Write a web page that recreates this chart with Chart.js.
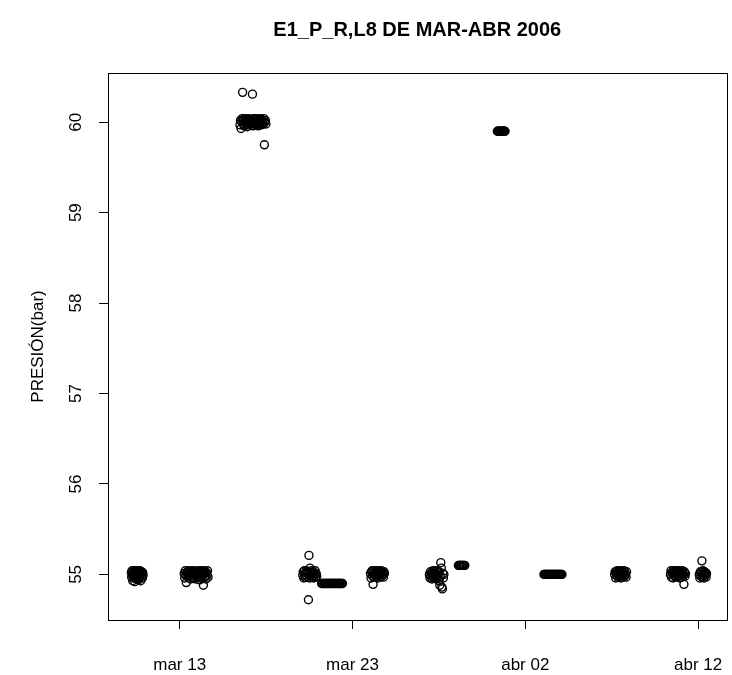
<!DOCTYPE html>
<html>
<head>
<meta charset="utf-8">
<script src="https://cdn.jsdelivr.net/npm/chart.js@4/dist/chart.umd.min.js"></script>
<style>
  html, body { margin: 0; padding: 0; background: #fff; }
  canvas { display: block; }
</style>
</head>
<body>
<canvas id="presion-chart" width="732" height="675"></canvas>
<script>
// time = day counted from 1 March 2006 (abr 02 = 33), value = pressure in bar
const titulo = "E1_P_R,L8 DE MAR-ABR 2006";
const yTitulo = "PRESIÓN(bar)";

const xTickDays = [13, 23, 33, 43];
const xTickLabels = ["mar 13", "mar 23", "abr 02", "abr 12"];
const yTicks = [55, 56, 57, 58, 59, 60];

const tA = [10.20,10.22,10.24,10.26,10.28,10.30,10.32,10.34,10.36,10.38,10.40,10.42,10.44,10.46,10.48,10.50,10.52,10.54,10.56,10.58,10.60,10.62,10.64,10.66,10.68,10.70,10.72,10.74,10.76,10.78,10.80,10.82,10.84,10.86,10.88];
const pA = [55.02,54.97,55.04,54.99,54.93,55.01,55.03,54.96,55.00,55.04,54.92,54.98,55.02,55.03,54.95,55.01,55.04,54.97,55.00,55.02,54.94,55.03,54.99,55.01,54.96,55.04,55.00,54.93,55.02,54.98,55.03,55.01,54.96,55.02,54.99];

const tB = [13.26,13.29,13.32,13.35,13.38,13.41,13.44,13.47,13.50,13.53,13.56,13.59,13.62,13.65,13.68,13.71,13.74,13.77,13.80,13.83,13.86,13.89,13.92,13.95,13.98,14.01,14.04,14.07,14.10,14.13,14.16,14.19,14.22,14.25,14.28,14.31,14.34,14.37,14.40,14.43,14.46,14.49,14.52,14.55,14.58,14.61,14.64];
const pB = [55.01,54.96,55.04,54.99,54.91,55.02,55.03,54.97,55.00,55.04,54.98,55.02,54.95,55.03,55.00,54.97,55.04,55.01,54.96,55.02,55.03,54.99,54.95,55.01,55.04,54.98,55.02,54.97,55.03,55.00,54.94,55.04,55.01,54.96,55.03,54.99,55.02,54.88,55.04,54.97,55.01,55.03,54.95,55.02,54.99,55.04,54.97];

const tTop = [16.49,16.52,16.55,16.58,16.61,16.64,16.67,16.70,16.73,16.76,16.79,16.82,16.85,16.88,16.91,16.94,16.97,17.00,17.03,17.06,17.09,17.12,17.15,17.18,17.21,17.24,17.27,17.30,17.33,17.36,17.39,17.42,17.45,17.48,17.51,17.54,17.57,17.60,17.63,17.66,17.69,17.72,17.75,17.78,17.81,17.84,17.87,17.90,17.93,17.96,17.99];
const pTop = [59.97,60.02,59.93,60.01,60.04,60.33,59.98,60.03,59.96,60.01,60.04,59.97,60.00,60.03,59.95,60.02,59.99,60.04,59.97,60.01,60.03,59.98,60.00,60.02,60.31,59.96,60.04,60.00,59.98,60.03,60.01,59.97,60.04,59.99,60.02,59.96,60.03,60.00,59.98,60.04,60.01,59.97,60.03,59.99,60.02,59.98,60.04,59.75,60.00,60.02,59.98];

const tC = [20.12,20.15,20.18,20.21,20.24,20.27,20.30,20.33,20.36,20.39,20.42,20.45,20.48,20.51,20.54,20.57,20.60,20.63,20.66,20.69,20.72,20.75,20.78,20.81,20.84,20.87,20.90,20.93];
const pC = [54.99,55.03,54.96,55.04,55.00,54.97,55.02,55.04,54.98,55.01,55.03,54.72,55.21,54.96,55.07,55.02,54.99,55.04,54.97,55.01,55.03,54.96,55.02,54.99,55.04,54.97,55.01,54.98];

const tC2 = [21.21,21.25,21.29,21.33,21.38,21.42,21.46,21.50,21.54,21.58,21.63,21.67,21.71,21.75,21.79,21.83,21.88,21.92,21.96,22.00,22.04,22.08,22.13,22.17,22.21,22.25,22.29,22.33,22.38,22.42];
const pC2 = [54.9,54.9,54.9,54.9,54.9,54.9,54.9,54.9,54.9,54.9,54.9,54.9,54.9,54.9,54.9,54.9,54.9,54.9,54.9,54.9,54.9,54.9,54.9,54.9,54.9,54.9,54.9,54.9,54.9,54.9];

const tD = [24.04,24.07,24.10,24.13,24.16,24.19,24.22,24.25,24.28,24.31,24.34,24.37,24.40,24.43,24.46,24.49,24.52,24.55,24.58,24.61,24.64,24.67,24.70,24.73,24.76,24.79,24.82,24.85];
const pD = [55.01,54.96,55.03,55.04,54.98,54.89,55.02,55.00,54.97,55.04,55.01,54.98,55.03,55.00,54.96,55.04,55.02,54.99,55.03,54.97,55.01,55.04,54.98,55.02,55.00,54.97,55.03,55.01];

const tE = [27.45,27.48,27.51,27.54,27.57,27.60,27.63,27.66,27.69,27.72,27.75,27.78,27.81,27.84,27.87,27.90,27.93,27.96,27.99,28.02,28.05,28.08,28.11,28.14,28.17,28.20,28.23,28.26,28.29];
const pE = [55.00,54.96,55.03,54.98,55.01,54.95,55.02,55.04,54.97,55.00,55.03,54.96,55.01,54.98,55.04,54.95,55.02,54.99,54.93,55.03,54.88,54.97,55.13,55.07,54.86,54.84,55.01,54.96,55.00];

const tE2 = [29.13,29.17,29.21,29.25,29.29,29.33,29.38,29.42,29.46,29.50];
const pE2 = [55.1,55.1,55.1,55.1,55.1,55.1,55.1,55.1,55.1,55.1];

const tS = [31.38,31.42,31.46,31.50,31.54,31.58,31.63,31.67,31.71,31.75,31.79,31.83];
const pS = [59.9,59.9,59.9,59.9,59.9,59.9,59.9,59.9,59.9,59.9,59.9,59.9];

const tF0 = [34.08,34.13,34.17,34.21,34.25,34.29,34.33,34.38,34.42,34.46,34.50,34.54,34.58,34.63,34.67,34.71,34.75,34.79,34.83,34.88,34.92,34.96,35.00,35.04,35.08,35.12];
const pF0 = [55.0,55.0,55.0,55.0,55.0,55.0,55.0,55.0,55.0,55.0,55.0,55.0,55.0,55.0,55.0,55.0,55.0,55.0,55.0,55.0,55.0,55.0,55.0,55.0,55.0,55.0];

const tF = [38.17,38.20,38.23,38.26,38.29,38.32,38.35,38.38,38.41,38.44,38.47,38.50,38.53,38.56,38.59,38.62,38.65,38.68,38.71,38.74,38.77,38.80,38.83,38.86];
const pF = [55.00,55.03,54.96,55.02,54.99,55.04,54.97,55.01,55.03,54.98,55.00,55.04,54.96,55.02,54.99,55.03,54.97,55.01,55.04,54.98,55.02,55.00,54.97,55.03];

const tG = [41.40,41.43,41.46,41.49,41.52,41.55,41.58,41.61,41.64,41.67,41.70,41.73,41.76,41.79,41.82,41.85,41.88,41.91,41.94,41.97,42.00,42.03,42.06,42.09,42.12,42.15,42.18,42.21,42.24,42.27];
const pG = [55.00,55.04,54.97,55.02,55.03,54.96,55.01,55.04,54.98,55.02,55.00,55.04,54.97,55.03,55.01,54.98,55.04,55.02,54.96,55.00,55.03,55.01,54.97,55.04,55.02,54.99,54.89,55.03,54.98,55.01];

const tH = [43.07,43.10,43.13,43.16,43.19,43.22,43.25,43.28,43.31,43.34,43.37,43.40,43.43,43.46,43.49];
const pH = [55.00,54.96,55.03,54.98,55.02,55.15,54.97,55.04,55.00,54.96,55.03,54.99,55.02,54.97,55.01];

const tramos = [[tA, pA], [tB, pB], [tTop, pTop], [tC, pC], [tC2, pC2], [tD, pD],
    [tE, pE], [tE2, pE2], [tS, pS], [tF0, pF0], [tF, pF], [tG, pG], [tH, pH]];
const puntos = tramos.flatMap(([t, p]) => t.map((d, i) => ({ x: d, y: p[i] })));

const fontFamily = '"Liberation Sans", Arial, sans-serif';
const black = "#000";

const frame = {
    id: "frame",
    afterDraw(chart) {
        const { ctx, chartArea: a } = chart;
        ctx.save();
        ctx.strokeStyle = black;
        ctx.lineWidth = 1;
        ctx.strokeRect(Math.round(a.left) + 0.5, Math.round(a.top) + 0.5,
            Math.round(a.right - a.left), Math.round(a.bottom - a.top));
        ctx.fillStyle = black;
        ctx.font = "bold 20px " + fontFamily;
        ctx.textAlign = "center";
        ctx.textBaseline = "middle";
        ctx.fillText(titulo, (a.left + a.right) / 2, 30);
        ctx.restore();
    },
};

new Chart(document.getElementById("presion-chart"), {
    type: "scatter",
    data: {
        datasets: [
            {
                data: puntos,
                pointStyle: "circle",
                pointRadius: 4,
                pointHoverRadius: 4,
                borderWidth: 1.4,
                borderColor: black,
                backgroundColor: "rgba(0,0,0,0)",
            },
        ],
    },
    options: {
        responsive: false,
        animation: false,
        layout: { padding: { top: 73, right: 4, left: 0, bottom: 0 } },
        plugins: {
            legend: { display: false },
            tooltip: { enabled: false },
        },
        scales: {
            x: {
                type: "linear",
                min: 8.85,
                max: 44.65,
                afterBuildTicks: (s) => { s.ticks = xTickDays.map((v) => ({ value: v })); },
                afterFit: (s) => { s.height = 55; s.paddingLeft = 0; s.paddingRight = 0; },
                border: { display: false },
                grid: { drawOnChartArea: false, drawTicks: true, tickLength: 9, color: black },
                ticks: {
                    autoSkip: false,
                    maxRotation: 0,
                    padding: 26,
                    color: black,
                    font: { family: fontFamily, size: 17 },
                    callback: (v) => xTickLabels[xTickDays.indexOf(v)],
                },
            },
            y: {
                type: "linear",
                min: 54.496,
                max: 60.544,
                afterBuildTicks: (s) => { s.ticks = yTicks.map((v) => ({ value: v })); },
                afterFit: (s) => { s.width = 108; s.paddingTop = 0; s.paddingBottom = 0; },
                border: { display: false },
                grid: { drawOnChartArea: false, drawTicks: true, tickLength: 9, color: black },
                ticks: {
                    minRotation: 90,
                    maxRotation: 90,
                    crossAlign: "center",
                    padding: 13,
                    color: black,
                    font: { family: fontFamily, size: 17 },
                    callback: (v) => String(v),
                },
                title: {
                    display: true,
                    text: yTitulo,
                    color: black,
                    padding: { top: 28, bottom: 0 },
                    font: { family: fontFamily, size: 17 },
                },
            },
        },
    },
    plugins: [frame],
});
</script>
</body>
</html>
